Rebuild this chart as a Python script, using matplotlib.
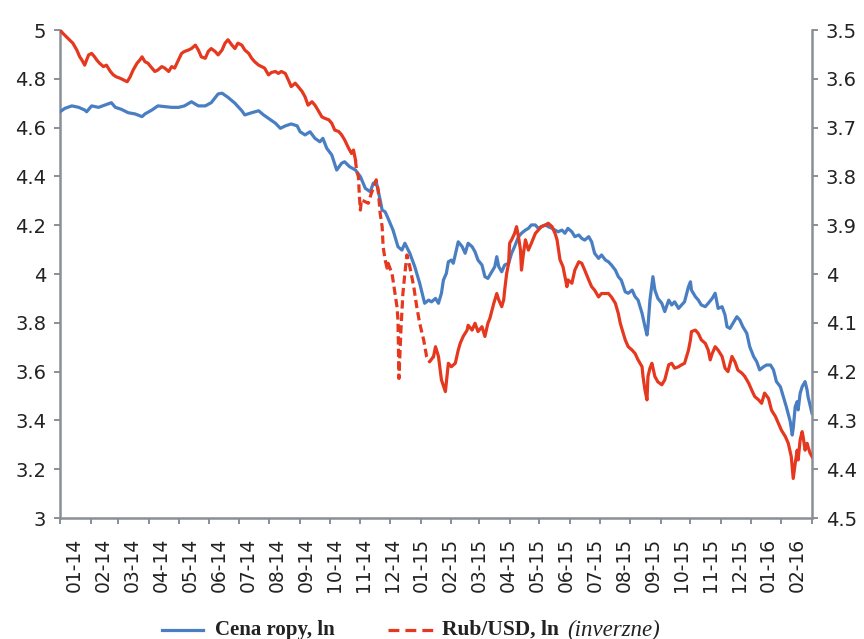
import numpy as np
import matplotlib
matplotlib.use("Agg")
import matplotlib.pyplot as plt
from matplotlib.lines import Line2D

# Days counted from 2014-01-01
oil_day = [0, 5, 12, 19, 25, 27, 32, 39, 46, 52, 56, 62, 69, 76, 83, 86, 93, 99, 106, 113,
           120, 126, 133, 140, 147, 153, 160, 164, 170, 177, 184, 187, 194, 201, 206, 211,
           218, 223, 228, 234, 240, 243, 248, 253, 258, 263, 266, 270, 275, 280, 285, 288,
           293, 299, 304, 309, 314, 317, 320, 324, 326, 329, 332, 337, 342, 346, 349, 354,
           359, 364, 369, 373, 376, 380, 383, 386, 388, 391, 393, 396, 398, 401, 403, 407,
           410, 413, 417, 420, 423, 427, 430, 433, 437, 440, 442, 444, 447, 450, 454, 457,
           460, 464, 467, 471, 474, 477, 481, 484, 487, 491, 494, 498, 501, 504, 508, 511,
           514, 518, 521, 525, 528, 531, 535, 538, 541, 545, 548, 552, 555, 558, 562, 565,
           568, 572, 575, 579, 582, 585, 589, 592, 594, 595, 597, 600, 602, 605, 609, 612,
           616, 619, 622, 626, 629, 632, 636, 638, 639, 643, 646, 649, 653, 656, 660, 663,
           666, 670, 673, 675, 678, 681, 685, 688, 691, 695, 698, 702, 705, 708, 712, 715,
           719, 722, 725, 729, 732, 735, 739, 741, 742, 744, 746, 747, 749, 751, 754, 756,
           757, 759, 761]
oil_ln = [4.665, 4.679, 4.689, 4.683, 4.672, 4.665, 4.689, 4.683, 4.693, 4.702, 4.683, 4.675,
          4.661, 4.656, 4.645, 4.656, 4.672, 4.689, 4.686, 4.683, 4.683, 4.689, 4.706, 4.689,
          4.689, 4.702, 4.738, 4.741, 4.724, 4.700, 4.669, 4.652, 4.661, 4.669, 4.652, 4.638,
          4.618, 4.597, 4.607, 4.615, 4.607, 4.583, 4.570, 4.583, 4.556, 4.542, 4.556, 4.515,
          4.488, 4.426, 4.454, 4.460, 4.440, 4.426, 4.399, 4.351, 4.337, 4.372, 4.378, 4.303,
          4.262, 4.255, 4.228, 4.180, 4.112, 4.098, 4.126, 4.085, 4.030, 3.962, 3.880, 3.893,
          3.886, 3.900, 3.880, 3.921, 3.975, 4.003, 4.050, 4.057, 4.044, 4.098, 4.132, 4.112,
          4.085, 4.126, 4.112, 4.091, 4.057, 4.037, 3.989, 3.982, 4.009, 4.030, 4.071, 4.030,
          4.009, 4.037, 4.044, 4.085, 4.112, 4.153, 4.167, 4.180, 4.187, 4.201, 4.201, 4.187,
          4.194, 4.201, 4.194, 4.187, 4.180, 4.173, 4.180, 4.167, 4.187, 4.173, 4.153, 4.160,
          4.146, 4.139, 4.153, 4.132, 4.085, 4.064, 4.078, 4.057, 4.050, 4.037, 4.016, 3.989,
          3.975, 3.927, 3.921, 3.934, 3.907, 3.893, 3.839, 3.784, 3.750, 3.784, 3.893, 3.989,
          3.934, 3.900, 3.880, 3.846, 3.893, 3.873, 3.886, 3.859, 3.873, 3.886, 3.948, 3.968,
          3.934, 3.907, 3.893, 3.873, 3.866, 3.880, 3.900, 3.921, 3.859, 3.866, 3.832, 3.784,
          3.777, 3.798, 3.825, 3.811, 3.784, 3.757, 3.702, 3.661, 3.641, 3.607, 3.620, 3.627,
          3.627, 3.607, 3.559, 3.538, 3.497, 3.456, 3.395, 3.340, 3.368, 3.456, 3.477, 3.443,
          3.511, 3.538, 3.559, 3.525, 3.497, 3.463, 3.429]

rub_day = [0, 3, 8, 13, 17, 20, 22, 25, 27, 29, 32, 35, 37, 40, 44, 47, 51, 54, 57, 61, 64,
           68, 71, 74, 78, 81, 83, 86, 89, 93, 96, 99, 103, 106, 110, 113, 116, 120, 123, 126,
           130, 133, 137, 140, 143, 147, 150, 153, 157, 160, 164, 167, 170, 174, 177, 180, 184,
           187, 191, 194, 197, 201, 204, 207, 211, 214, 218, 221, 224, 228, 231, 234, 238, 241,
           245, 248, 251, 255, 258, 261, 265, 268, 272, 275, 278, 282, 285, 288, 292, 295, 297,
           299, 300, 302, 303, 304, 305, 309, 312, 315, 319, 320, 322, 324, 326, 327, 329, 331,
           332, 336, 339, 341, 342, 343, 345, 347, 349, 351, 354, 358, 361, 364, 368, 371, 374,
           378, 380, 383, 386, 390, 393, 396, 400, 403, 405, 408, 412, 413, 417, 420, 423, 427,
           430, 433, 435, 439, 442, 444, 447, 449, 450, 452, 454, 455, 457, 460, 462, 464, 466,
           467, 469, 471, 474, 477, 481, 484, 487, 491, 494, 498, 501, 503, 504, 506, 509, 511,
           513, 514, 518, 521, 525, 528, 531, 535, 538, 541, 545, 548, 552, 555, 558, 562, 565,
           567, 568, 572, 575, 579, 582, 585, 589, 590, 592, 594, 595, 597, 599, 602, 605, 609,
           612, 616, 619, 622, 626, 629, 632, 636, 638, 639, 643, 646, 649, 653, 656, 658, 660,
           663, 666, 670, 673, 676, 680, 683, 686, 690, 693, 697, 700, 703, 707, 710, 713, 717,
           720, 724, 727, 730, 734, 737, 740, 742, 744, 746, 747, 749, 751, 752, 754, 756, 757,
           759, 761]
rub_ln = [3.500, 3.507, 3.517, 3.527, 3.541, 3.555, 3.561, 3.572, 3.561, 3.551, 3.548, 3.555,
          3.561, 3.568, 3.575, 3.572, 3.585, 3.592, 3.596, 3.599, 3.602, 3.606, 3.596, 3.582,
          3.568, 3.561, 3.555, 3.565, 3.568, 3.578, 3.585, 3.582, 3.575, 3.578, 3.585, 3.575,
          3.578, 3.561, 3.548, 3.544, 3.541, 3.538, 3.531, 3.541, 3.555, 3.558, 3.544, 3.538,
          3.544, 3.551, 3.541, 3.527, 3.520, 3.531, 3.538, 3.527, 3.531, 3.541, 3.548, 3.558,
          3.565, 3.572, 3.575, 3.578, 3.592, 3.587, 3.585, 3.589, 3.585, 3.589, 3.602, 3.616,
          3.609, 3.616, 3.626, 3.637, 3.654, 3.647, 3.654, 3.664, 3.678, 3.681, 3.684, 3.691,
          3.705, 3.708, 3.715, 3.725, 3.742, 3.753, 3.746, 3.766, 3.787, 3.801, 3.842, 3.869,
          3.848, 3.852, 3.855, 3.835, 3.814, 3.807, 3.828, 3.876, 3.903, 3.944, 3.971, 3.988,
          3.978, 3.999, 4.040, 4.067, 4.094, 4.214, 4.115, 4.040, 3.999, 3.961, 3.985, 4.026,
          4.067, 4.101, 4.135, 4.169, 4.180, 4.169, 4.149, 4.169, 4.217, 4.241, 4.183, 4.190,
          4.183, 4.156, 4.142, 4.128, 4.115, 4.105, 4.115, 4.101, 4.118, 4.108, 4.128, 4.101,
          4.091, 4.060, 4.040, 4.053, 4.067, 4.053, 4.033, 3.999, 3.978, 3.937, 3.930, 3.917,
          3.903, 3.924, 3.951, 3.992, 3.958, 3.930, 3.951, 3.937, 3.917, 3.910, 3.903, 3.900,
          3.896, 3.903, 3.917, 3.930, 3.944, 3.971, 3.985, 4.006, 4.026, 4.012, 4.019, 3.992,
          3.975, 3.978, 3.992, 4.012, 4.026, 4.033, 4.047, 4.040, 4.040, 4.040, 4.047, 4.060,
          4.081, 4.101, 4.108, 4.135, 4.149, 4.156, 4.163, 4.176, 4.190, 4.210, 4.238, 4.258,
          4.210, 4.193, 4.183, 4.210, 4.221, 4.227, 4.217, 4.186, 4.183, 4.193, 4.190, 4.186,
          4.183, 4.156, 4.135, 4.118, 4.115, 4.122, 4.135, 4.142, 4.156, 4.176, 4.163, 4.149,
          4.156, 4.169, 4.193, 4.200, 4.169, 4.180, 4.197, 4.203, 4.210, 4.224, 4.238, 4.251,
          4.258, 4.265, 4.244, 4.255, 4.279, 4.292, 4.306, 4.320, 4.333, 4.347, 4.374, 4.419,
          4.388, 4.361, 4.381, 4.340, 4.323, 4.333, 4.361, 4.347, 4.354, 4.367, 4.374]

# Day range where the exchange-rate series is drawn dashed
rub_dashed_ranges = [(300, 374)]

month_labels = ["01-14", "02-14", "03-14", "04-14", "05-14", "06-14", "07-14", "08-14",
                "09-14", "10-14", "11-14", "12-14", "01-15", "02-15", "03-15", "04-15",
                "05-15", "06-15", "07-15", "08-15", "09-15", "10-15", "11-15", "12-15",
                "01-16", "02-16"]

oil_ticks = [3, 3.2, 3.4, 3.6, 3.8, 4, 4.2, 4.4, 4.6, 4.8, 5]
rub_ticks = [3.5, 3.6, 3.7, 3.8, 3.9, 4, 4.1, 4.2, 4.3, 4.4, 4.5]

legend_oil = "Cena ropy, ln"
legend_rub = "Rub/USD, ln"
legend_rub_note = "(inverzne)"

BLUE = "#4a7ec3"
RED = "#e5381f"
SPINE = "#8a8f97"
TEXT = "#222222"

plt.rcParams["font.family"] = ["DejaVu Sans"]

fig = plt.figure(figsize=(8.64, 6.39), dpi=100)
ax = fig.add_axes([60 / 864, 1 - 518 / 639, 752 / 864, 488 / 639])
ax2 = ax.twinx()

# month boundaries (day offsets) for tick marks
month_starts = np.arange("2014-01", "2016-03", dtype="datetime64[M]").astype("datetime64[D]")
tick_days = (month_starts - np.datetime64("2014-01-01")).astype(int)
x_end = tick_days[-1]

ax.plot(oil_day, oil_ln, color=BLUE, lw=2.3, solid_joinstyle="round", zorder=3)

rd = np.asarray(rub_day, dtype=float)
rv = np.asarray(rub_ln, dtype=float)
dash_mask = np.zeros(rd.size, dtype=bool)
for a, b in rub_dashed_ranges:
    dash_mask |= (rd >= a) & (rd <= b)
ext = dash_mask.copy()
ext[1:] |= dash_mask[:-1]
ext[:-1] |= dash_mask[1:]
solid_v = np.where(dash_mask, np.nan, rv)
dashed_v = np.where(ext, rv, np.nan)
ax2.plot(rd, solid_v, color=RED, lw=2.3, solid_joinstyle="round", zorder=3)
ax2.plot(rd, dashed_v, color=RED, lw=2.3, dashes=(2.6, 1.3), zorder=3)

ax.set_xlim(0, x_end)
ax.set_ylim(3, 5)
ax2.set_ylim(4.5, 3.5)

ax.set_yticks(oil_ticks)
ax.set_yticklabels([f"{v:g}" for v in oil_ticks])
ax2.set_yticks(rub_ticks)
ax2.set_yticklabels([f"{v:g}" for v in rub_ticks])

ax.set_xticks(tick_days)
ax.set_xticklabels([])
slot = x_end / len(month_labels)
ax.set_xticks([(i + 0.5) * slot for i in range(len(month_labels))], minor=True)
ax.set_xticklabels(month_labels, minor=True, rotation=90)

for a in (ax, ax2):
    a.spines["top"].set_visible(False)
    for side in ("left", "right", "bottom"):
        a.spines[side].set_color(SPINE)
        a.spines[side].set_linewidth(1.8)

ax.spines["right"].set_visible(False)
ax2.spines["left"].set_visible(False)
ax2.spines["bottom"].set_visible(False)

ax.tick_params(axis="y", which="major", length=4, width=1.4, color=SPINE,
               labelsize=14, labelcolor=TEXT, pad=6)
ax2.tick_params(axis="y", which="major", length=4, width=1.4, color=SPINE,
                labelsize=14, labelcolor=TEXT, pad=6)
ax.tick_params(axis="x", which="major", length=4.5, width=1.4, color=SPINE)
ax.tick_params(axis="x", which="minor", length=0, labelsize=13.5, labelcolor=TEXT, pad=14)

# legend below the plot
serif = ["Liberation Serif", "DejaVu Serif"]
fy = 1 - 630 / 639
fig.add_artist(Line2D([162 / 864, 203 / 864], [fy, fy], color=BLUE, lw=2.3,
                      transform=fig.transFigure))
fig.text(215 / 864, fy, legend_oil, family=serif, weight="bold", fontsize=15,
         color=TEXT, va="center", ha="left")
fig.add_artist(Line2D([388 / 864, 433 / 864], [fy, fy], color=RED, lw=2.3,
                      dashes=(3.4, 1.9), transform=fig.transFigure))
t = fig.text(442 / 864, fy, legend_rub, family=serif, weight="bold", fontsize=15.5,
             color=TEXT, va="center", ha="left")
fig.canvas.draw()
bb = t.get_window_extent()
fig.text((bb.x1 + 8) / 864, fy, legend_rub_note, family=serif, style="italic",
         fontsize=16.5, color=TEXT, va="center", ha="left")

fig.savefig("out.png", dpi=100)
